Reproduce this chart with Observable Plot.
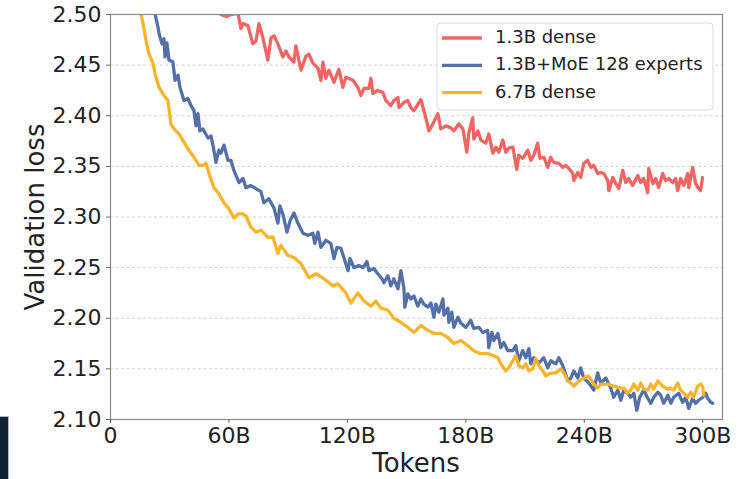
<!DOCTYPE html>
<html><head><meta charset="utf-8">
<script src="https://cdn.jsdelivr.net/npm/d3@7"></script>
<script src="https://cdn.jsdelivr.net/npm/@observablehq/plot@0.6"></script>
<style>
body{margin:0;background:#fff;}
#wrap{position:relative;width:748px;height:479px;overflow:hidden;}
#corner{position:absolute;left:0;top:417px;width:8px;height:62px;background:#0f2336;box-shadow:0 0 0 1px #b8b8b8;}
</style>
</head><body><div id="wrap"><div id="corner"></div></div>
<script>
const seriesNames = ["1.3B dense", "1.3B+MoE 128 experts", "6.7B dense"];
const seriesColors = ["#f26563", "#5470a8", "#f8b42c"];
const xTicks = [0, 60, 120, 180, 240, 300];
const xTickLabels = ["0", "60B", "120B", "180B", "240B", "300B"];
const yTicks = [2.10, 2.15, 2.20, 2.25, 2.30, 2.35, 2.40, 2.45, 2.50];

const denseSmallTokens = [55.9,58.5,61.0,64.6,66.1,67.1,69.6,72.1,73.7,75.2,77.2,79.7,81.3,82.8,84.8,87.3,88.9,90.4,92.9,93.9,96.5,99.0,100.5,102.5,105.1,106.6,107.6,109.1,110.6,113.2,115.7,117.7,119.2,122.8,125.3,126.8,128.4,130.9,131.9,132.9,135.4,138.0,139.5,142.0,143.5,145.6,146.1,148.6,150.6,152.1,153.7,157.2,159.7,161.3,163.3,165.8,167.3,169.9,172.4,173.9,176.4,178.5,180.5,181.5,183.5,184.0,186.1,187.6,190.1,191.6,193.7,195.2,196.7,198.7,200.2,201.7,203.8,205.8,206.8,208.8,211.4,212.9,214.4,216.4,217.5,219.5,221.5,223.0,224.6,227.1,229.1,230.6,232.1,234.2,234.7,236.7,238.2,239.7,241.7,243.3,244.8,246.8,248.3,249.9,251.9,252.4,254.4,255.9,257.5,259.5,261.0,262.5,264.5,267.1,268.6,270.1,272.1,272.6,274.7,276.2,277.7,279.7,281.2,282.8,284.8,286.3,287.3,288.8,290.4,292.4,292.9,294.9,296.4,297.9,298.9,299.9];
const denseSmallLoss = [2.500,2.498,2.500,2.501,2.486,2.491,2.489,2.471,2.474,2.491,2.477,2.455,2.477,2.479,2.471,2.458,2.464,2.458,2.453,2.469,2.445,2.459,2.461,2.452,2.447,2.435,2.453,2.437,2.445,2.433,2.446,2.428,2.438,2.435,2.428,2.420,2.427,2.427,2.437,2.422,2.425,2.423,2.415,2.410,2.415,2.418,2.408,2.413,2.415,2.408,2.405,2.416,2.398,2.385,2.392,2.402,2.387,2.390,2.388,2.385,2.392,2.387,2.364,2.383,2.398,2.377,2.385,2.376,2.373,2.382,2.363,2.369,2.364,2.376,2.364,2.368,2.369,2.347,2.361,2.358,2.366,2.356,2.361,2.373,2.358,2.359,2.349,2.359,2.354,2.353,2.349,2.351,2.348,2.343,2.336,2.344,2.339,2.353,2.356,2.349,2.351,2.343,2.344,2.343,2.336,2.326,2.339,2.333,2.328,2.346,2.334,2.338,2.331,2.341,2.334,2.338,2.324,2.348,2.333,2.338,2.329,2.343,2.336,2.338,2.334,2.338,2.326,2.338,2.331,2.343,2.329,2.349,2.333,2.328,2.326,2.339];

const moeTokens = [22.5,24.1,24.6,26.1,27.1,27.6,28.6,29.6,31.6,32.7,34.2,35.2,37.2,39.2,40.8,42.3,43.3,44.3,45.3,46.8,49.4,50.9,51.9,53.4,54.9,55.9,57.5,59.5,61.0,62.5,65.1,67.1,68.6,71.1,73.7,76.2,77.7,80.2,82.8,84.8,85.8,87.3,89.4,90.9,92.9,94.9,97.5,100.0,102.5,103.5,105.1,106.6,109.1,111.6,113.2,114.7,116.7,118.2,120.3,121.3,123.3,125.8,127.9,129.9,130.9,133.4,135.4,137.5,138.5,140.5,142.0,143.5,145.6,147.1,148.6,149.1,150.6,152.1,153.7,155.7,157.2,158.7,160.8,162.3,163.8,164.8,166.3,168.4,168.9,170.9,171.4,172.9,173.9,176.0,177.5,180.0,182.5,184.0,186.6,188.6,191.1,191.6,193.2,194.2,196.2,197.7,199.2,201.3,203.8,205.3,206.8,208.8,210.4,211.9,212.9,214.4,217.0,219.5,221.5,223.0,225.6,227.1,229.1,231.7,233.2,234.7,236.7,238.2,239.7,242.3,244.8,246.8,248.3,250.9,253.4,254.9,257.0,258.5,260.0,262.0,263.5,265.1,266.6,268.1,270.1,272.1,273.7,275.2,277.2,278.7,280.2,282.3,283.8,285.3,287.8,289.8,291.4,292.9,294.9,296.4,297.9,300.0,301.5,302.5,304.0,305.0];
const moeLoss = [2.501,2.487,2.481,2.471,2.476,2.458,2.472,2.455,2.453,2.435,2.440,2.428,2.415,2.417,2.410,2.405,2.390,2.402,2.385,2.387,2.378,2.380,2.371,2.354,2.366,2.363,2.371,2.356,2.356,2.346,2.334,2.338,2.329,2.331,2.328,2.325,2.314,2.318,2.309,2.294,2.311,2.303,2.285,2.296,2.304,2.294,2.284,2.282,2.284,2.274,2.285,2.270,2.277,2.274,2.259,2.270,2.269,2.260,2.247,2.259,2.250,2.252,2.250,2.256,2.247,2.249,2.244,2.239,2.235,2.242,2.232,2.239,2.229,2.247,2.230,2.211,2.224,2.219,2.222,2.212,2.219,2.214,2.211,2.215,2.201,2.214,2.206,2.219,2.203,2.210,2.196,2.206,2.191,2.201,2.195,2.191,2.198,2.190,2.191,2.186,2.188,2.171,2.186,2.178,2.185,2.171,2.176,2.168,2.168,2.173,2.158,2.168,2.161,2.170,2.155,2.161,2.156,2.161,2.151,2.158,2.155,2.161,2.153,2.138,2.141,2.148,2.141,2.151,2.141,2.136,2.129,2.146,2.136,2.141,2.131,2.122,2.129,2.119,2.129,2.126,2.122,2.126,2.109,2.122,2.129,2.121,2.116,2.122,2.127,2.124,2.116,2.124,2.116,2.122,2.126,2.117,2.122,2.111,2.121,2.116,2.119,2.122,2.126,2.121,2.117,2.116];

const denseLargeTokens = [15.4,16.5,18.0,19.5,21.5,23.0,24.6,27.1,29.1,30.6,32.2,34.7,37.2,39.7,42.3,44.8,46.8,48.4,49.9,52.4,54.9,57.5,60.0,62.5,64.6,67.1,68.6,71.1,73.7,76.2,79.7,82.3,84.8,86.3,89.9,92.9,96.5,100.5,104.1,108.1,112.7,115.2,119.2,121.8,125.3,128.4,131.9,134.4,137.0,140.5,143.5,147.1,150.6,153.7,157.2,160.8,163.8,167.3,170.9,173.9,177.5,181.0,184.0,187.6,191.1,194.2,196.2,197.7,200.2,201.7,203.8,205.3,206.8,208.8,210.4,211.9,213.9,215.4,217.0,219.0,220.5,222.0,224.1,225.6,228.1,229.6,231.7,233.2,234.7,237.2,239.2,241.8,243.3,244.8,246.8,248.3,251.9,254.9,258.5,260.0,262.0,263.5,265.1,267.1,268.6,270.1,272.1,273.7,275.2,277.2,279.7,282.3,283.8,285.3,287.3,288.8,290.4,292.4,293.9,295.4,297.4,299.0,300.0,300.5];
const denseLargeLoss = [2.501,2.491,2.474,2.461,2.452,2.438,2.428,2.420,2.415,2.392,2.387,2.382,2.374,2.366,2.359,2.351,2.351,2.353,2.343,2.329,2.323,2.314,2.308,2.299,2.303,2.303,2.301,2.290,2.285,2.287,2.280,2.280,2.264,2.272,2.262,2.260,2.254,2.240,2.244,2.239,2.232,2.234,2.225,2.215,2.225,2.217,2.212,2.217,2.210,2.208,2.200,2.196,2.191,2.186,2.193,2.188,2.185,2.185,2.181,2.175,2.178,2.173,2.168,2.165,2.165,2.163,2.161,2.155,2.148,2.151,2.158,2.163,2.153,2.151,2.155,2.148,2.150,2.160,2.153,2.148,2.143,2.145,2.146,2.146,2.150,2.146,2.138,2.136,2.133,2.138,2.140,2.143,2.140,2.135,2.131,2.135,2.135,2.133,2.131,2.131,2.126,2.129,2.135,2.129,2.136,2.130,2.129,2.135,2.130,2.138,2.133,2.130,2.131,2.129,2.136,2.129,2.126,2.122,2.127,2.122,2.133,2.135,2.132,2.124];

const rows = (ts, ls) => ts.map((t, i) => ({t, loss: ls[i]}));
const series = [
  rows(denseSmallTokens, denseSmallLoss),
  rows(moeTokens, moeLoss),
  rows(denseLargeTokens, denseLargeLoss)
];

const font = "'DejaVu Sans', sans-serif";
const chart = Plot.plot({
  width: 748, height: 479,
  marginLeft: 110, marginRight: 26, marginTop: 14, marginBottom: 60,
  style: {fontFamily: font, fontSize: "22px", color: "#222", background: "#fff", overflow: "visible"},
  x: {domain: [0, 310], label: null},
  y: {domain: [2.10, 2.50], label: null},
  marks: [
    Plot.gridY(yTicks.slice(1, -1), {stroke: "#c4c4c4", strokeOpacity: 1, strokeWidth: 0.8, strokeDasharray: "3,2.5"}),
    ...series.map((d, i) => Plot.line(d, {x: "t", y: "loss", stroke: seriesColors[i], strokeWidth: 3.3, strokeLinejoin: "round", clip: true})),
    Plot.frame({stroke: "#8a8a8a", strokeWidth: 1.2}),
    Plot.axisX({ticks: xTicks, tickFormat: d => xTickLabels[xTicks.indexOf(d)], tickSize: 4, tickPadding: 4, stroke: "#666", fill: "#222", fontSize: 22, label: null}),
    Plot.axisY({ticks: yTicks, tickFormat: d => d.toFixed(2), tickSize: 4, tickPadding: 5, stroke: "#666", fill: "#222", fontSize: 22, label: null})
  ]
});

const svg = d3.select(chart);
svg.append("text").attr("transform", "translate(36,217) rotate(-90)")
  .attr("text-anchor", "middle").attr("dominant-baseline", "middle")
  .attr("font-size", 26).attr("font-family", font).attr("fill", "#222").text("Validation loss");
svg.append("text").attr("x", 416).attr("y", 464)
  .attr("text-anchor", "middle").attr("dominant-baseline", "middle")
  .attr("font-size", 26).attr("font-family", font).attr("fill", "#222").text("Tokens");

const lg = svg.append("g");
lg.append("rect").attr("x", 437).attr("y", 23).attr("width", 276).attr("height", 87).attr("rx", 4)
  .attr("fill", "#fff").attr("fill-opacity", 0.85).attr("stroke", "#d8d8d8").attr("stroke-width", 1);
seriesNames.forEach((name, i) => {
  const y = 38 + i * 27.3;
  lg.append("line").attr("x1", 442).attr("x2", 482).attr("y1", y).attr("y2", y)
    .attr("stroke", seriesColors[i]).attr("stroke-width", 3.3);
  lg.append("text").attr("x", 495).attr("y", y).attr("text-anchor", "start").attr("dominant-baseline", "middle")
    .attr("font-size", 18).attr("font-family", font).attr("fill", "#222").text(name);
});

document.getElementById("wrap").appendChild(chart);
</script>
</body></html>
